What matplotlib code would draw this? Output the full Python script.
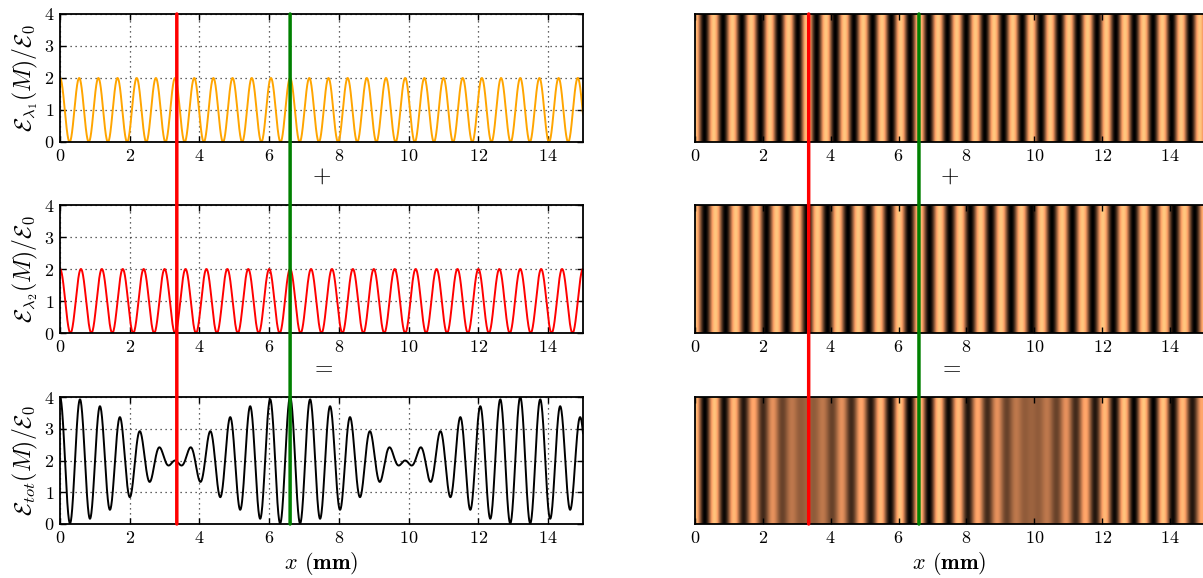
import numpy as np
import matplotlib
matplotlib.use("Agg")
import matplotlib.pyplot as plt
from matplotlib.patches import ConnectionPatch

plt.rcParams['mathtext.fontset'] = 'cm'
plt.rcParams['font.family'] = 'serif'
plt.rcParams['font.serif'] = ['cmr10', 'DejaVu Serif']
plt.rcParams['axes.formatter.use_mathtext'] = True

# ---- data ----
x_min, x_max = 0.0, 15.0
fringe_spacing_1 = 0.55   # mm, lambda_1 fringes
fringe_spacing_2 = 0.60   # mm, lambda_2 fringes
marker_red = 3.35         # mm, fringes vanish
marker_green = 6.6        # mm, fringes coincide
x_ticks = [0, 2, 4, 6, 8, 10, 12, 14]
y_ticks = [0, 1, 2, 3, 4]
ylabels = [r'$\mathcal{E}_{\lambda_1}(M)/\mathcal{E}_0$',
           r'$\mathcal{E}_{\lambda_2}(M)/\mathcal{E}_0$',
           r'$\mathcal{E}_{tot}(M)/\mathcal{E}_0$']
line_colors = ['orange', 'red', 'black']
between_signs = [r'$+$', r'$=$']

x = np.linspace(x_min, x_max, 3000)
E1 = 1 + np.cos(2 * np.pi * x / fringe_spacing_1)
E2 = 1 + np.cos(2 * np.pi * x / fringe_spacing_2)
Etot = E1 + E2
series = [E1, E2, Etot]
vmaxs = [2, 2, 4]

W, H = 1203, 578
fig = plt.figure(figsize=(W / 100, H / 100), dpi=100)

rows_px = [(14, 142), (205, 333), (397, 524)]
left_px = (60, 583)
right_px = (695, 1204)

def rect(xpx, ypx):
    return [xpx[0] / W, 1 - ypx[1] / H, (xpx[1] - xpx[0]) / W, (ypx[1] - ypx[0]) / H]

axL, axR = [], []
for i, ypx in enumerate(rows_px):
    a = fig.add_axes(rect(left_px, ypx))
    a.plot(x, series[i], color=line_colors[i], lw=1.4)
    a.set_xlim(x_min, x_max)
    a.set_ylim(0, 4)
    a.set_xticks(x_ticks)
    a.set_yticks(y_ticks)
    a.grid(True, ls=(0, (1, 3)), color='#333333', lw=0.9)
    a.tick_params(direction='in', top=True, right=True, labelsize=13, length=4,
                  width=1.0, pad=4)
    a.set_ylabel(ylabels[i], fontsize=17, labelpad=3)
    for s in a.spines.values():
        s.set_linewidth(1.3)
    axL.append(a)

    b = fig.add_axes(rect(right_px, ypx))
    b.imshow(series[i][np.newaxis, :], cmap='copper', aspect='auto',
             extent=[x_min, x_max, 0, 1], vmin=0, vmax=vmaxs[i],
             interpolation='antialiased')
    b.set_xlim(x_min, x_max)
    b.set_ylim(0, 1)
    b.set_xticks(x_ticks)
    b.set_yticks([])
    b.tick_params(direction='in', top=True, labelsize=13, length=4, width=1.0, pad=4)
    for s in b.spines.values():
        s.set_linewidth(1.3)
    axR.append(b)

for cols in (axL, axR):
    for k, sgn in enumerate(between_signs):
        cols[k].text(0.5, -0.27, sgn, transform=cols[k].transAxes,
                     ha='center', va='center', fontsize=17)
    cols[2].set_xlabel(r'$x$ $\mathbf{(mm)}$', fontsize=16)
    cols[2].xaxis.set_label_coords(0.5, -0.205)

for cols, ytop in ((axL, 4), (axR, 1)):
    for xm, col in ((marker_red, 'red'), (marker_green, 'green')):
        cp = ConnectionPatch(xyA=(xm, ytop), coordsA=cols[0].transData,
                             xyB=(xm, 0), coordsB=cols[2].transData,
                             color=col, lw=2.5, zorder=10)
        fig.add_artist(cp)

fig.savefig('out.png', dpi=100)
